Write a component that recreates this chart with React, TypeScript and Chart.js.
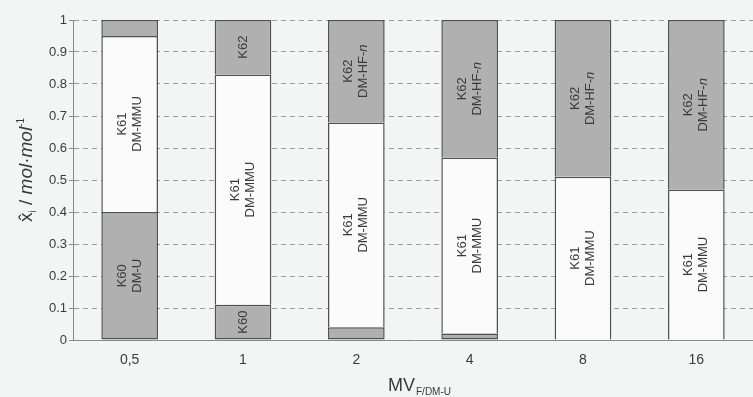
import React, { useEffect, useRef } from "react";
import { Chart, registerables } from "chart.js";

Chart.register(...registerables);

const categories = ["0,5", "1", "2", "4", "8", "16"];
const k60Values = [0.4, 0.11, 0.04, 0.02, 0, 0];
const k61Values = [0.55, 0.72, 0.64, 0.55, 0.51, 0.47];
const k62Values = [0.05, 0.17, 0.32, 0.43, 0.49, 0.53];
const k60Labels = [["K60", "DM-U"], ["K60"], [], [], [], []];
const k61Labels = [
  ["K61", "DM-MMU"],
  ["K61", "DM-MMU"],
  ["K61", "DM-MMU"],
  ["K61", "DM-MMU"],
  ["K61", "DM-MMU"],
  ["K61", "DM-MMU"],
];
const k62Labels = [[], ["K62"], ["K62", "DM-HF-n"], ["K62", "DM-HF-n"], ["K62", "DM-HF-n"], ["K62", "DM-HF-n"]];
const yTicks = [0, 0.1, 0.2, 0.3, 0.4, 0.5, 0.6, 0.7, 0.8, 0.9, 1];

const FONT = "'Liberation Sans', Arial, sans-serif";
const GRAY = "#b0b0b0";
const WHITE = "#fbfbfb";
const EDGE = "#505050";
const TEXT = "#3a3a3a";

const segmentLabels = [k60Labels, k61Labels, k62Labels];

const labelPlugin = {
  id: "segLabels",
  afterDatasetsDraw(chart: any) {
    const ctx = chart.ctx;
    ctx.save();
    ctx.fillStyle = TEXT;
    ctx.textAlign = "center";
    ctx.textBaseline = "middle";
    segmentLabels.forEach((labels, di) => {
      const meta = chart.getDatasetMeta(di);
      meta.data.forEach((el: any, i: number) => {
        const lines = labels[i] || [];
        if (!lines.length) return;
        const cx = el.x;
        const cy = (el.y + el.base) / 2;
        const lh = 15;
        lines.forEach((line: string, li: number) => {
          const off = (li - (lines.length - 1) / 2) * lh;
          ctx.save();
          ctx.translate(cx + off, cy);
          ctx.rotate(-Math.PI / 2);
          if (line.endsWith("-n")) {
            const a = line.slice(0, -1);
            ctx.font = `13px ${FONT}`;
            const wa = ctx.measureText(a).width;
            ctx.font = `italic 13px ${FONT}`;
            const wb = ctx.measureText("n").width;
            const start = -(wa + wb) / 2;
            ctx.textAlign = "left";
            ctx.font = `13px ${FONT}`;
            ctx.fillText(a, start, 0);
            ctx.font = `italic 13px ${FONT}`;
            ctx.fillText("n", start + wa, 0);
          } else {
            ctx.font = `13px ${FONT}`;
            ctx.fillText(line, 0, 0);
          }
          ctx.restore();
        });
      });
    });
    ctx.restore();
  },
};

const titlePlugin = {
  id: "axisTitles",
  afterDraw(chart: any) {
    const ctx = chart.ctx;
    const area = chart.chartArea;
    ctx.save();
    ctx.fillStyle = TEXT;
    ctx.textBaseline = "alphabetic";
    ctx.textAlign = "left";
    // X title: MV_{F/DM-U}
    ctx.font = `18px ${FONT}`;
    const wMV = ctx.measureText("MV").width;
    ctx.font = `10px ${FONT}`;
    const wSub = ctx.measureText("F/DM-U").width;
    const xc = (area.left + area.right) / 2 + 6;
    const x0 = xc - (wMV + wSub) / 2;
    ctx.font = `18px ${FONT}`;
    ctx.fillText("MV", x0, 391);
    ctx.font = `10px ${FONT}`;
    ctx.fillText("F/DM-U", x0 + wMV + 1, 395);

    // Y title: x̂_i / mol·mol^-1
    ctx.save();
    ctx.translate(32, 170);
    ctx.rotate(-Math.PI / 2);
    const parts = [
      { t: "x\u0302", f: `19px ${FONT}`, dy: 0 },
      { t: "i", f: `10px ${FONT}`, dy: 4 },
      { t: " / ", f: `19px ${FONT}`, dy: 0 },
      { t: "mol\u00b7mol", f: `italic 19px ${FONT}`, dy: 0 },
      { t: "-1", f: `10px ${FONT}`, dy: -8 },
    ];
    let total = 0;
    const widths = parts.map((p) => {
      ctx.font = p.f;
      const w = ctx.measureText(p.t).width;
      total += w;
      return w;
    });
    let x = -total / 2;
    parts.forEach((p, i) => {
      ctx.font = p.f;
      ctx.fillText(p.t, x, p.dy);
      x += widths[i];
    });
    ctx.restore();
    ctx.restore();
  },
};

const bgPlugin = {
  id: "bg",
  beforeDraw(chart: any) {
    const ctx = chart.ctx;
    ctx.save();
    ctx.fillStyle = "#f3f4f4";
    ctx.fillRect(0, 0, chart.width, chart.height);
    ctx.restore();
  },
};

export default function App() {
  const ref = useRef<HTMLCanvasElement>(null);
  useEffect(() => {
    document.body.style.margin = "0";
    const common = {
      borderColor: EDGE,
      borderSkipped: false,
      barPercentage: 0.5,
      categoryPercentage: 1,
    };
    const fullBorder = { top: 1.5, left: 1.5, right: 1.5, bottom: 1.5 };
    const openBottom = { top: 1.5, left: 1.5, right: 1.5, bottom: 0 };
    const chart = new Chart(ref.current as HTMLCanvasElement, {
      type: "bar",
      data: {
        labels: categories,
        datasets: [
          { label: "K60", data: k60Values, backgroundColor: GRAY, borderWidth: fullBorder, ...common },
          { label: "K61", data: k61Values, backgroundColor: WHITE, borderWidth: openBottom, ...common },
          { label: "K62", data: k62Values, backgroundColor: GRAY, borderWidth: openBottom, ...common },
        ] as any,
      },
      options: {
        animation: false,
        responsive: false,
        maintainAspectRatio: false,
        layout: { padding: { top: 20, right: 0, left: 0, bottom: 0 } },
        plugins: { legend: { display: false }, tooltip: { enabled: false } },
        scales: {
          x: {
            stacked: true,
            grid: { display: false },
            border: { display: true, color: "#8a8a8a", width: 1 },
            ticks: { color: TEXT, font: { family: FONT, size: 14 }, padding: 4 },
            afterFit: (s: any) => {
              s.height = 57;
            },
          },
          y: {
            stacked: true,
            min: 0,
            max: 1,
            afterBuildTicks: (s: any) => {
              s.ticks = yTicks.map((v) => ({ value: v }));
            },
            grid: {
              color: "#9c9c9c",
              lineWidth: 1,
              tickLength: 4,
              tickColor: "#8a8a8a",
              tickBorderDash: [],
            },
            border: { display: true, color: "#8a8a8a", width: 1, dash: [5, 4] },
            ticks: {
              color: TEXT,
              font: { family: FONT, size: 13 },
              padding: 2,
              callback: (v: any) => String(Math.round(Number(v) * 10) / 10),
            },
            afterFit: (s: any) => {
              s.width = 73;
            },
          },
        },
      } as any,
      plugins: [bgPlugin, labelPlugin, titlePlugin],
    });
    return () => chart.destroy();
  }, []);
  return <canvas ref={ref} width={753} height={397} style={{ display: "block" }} />;
}
